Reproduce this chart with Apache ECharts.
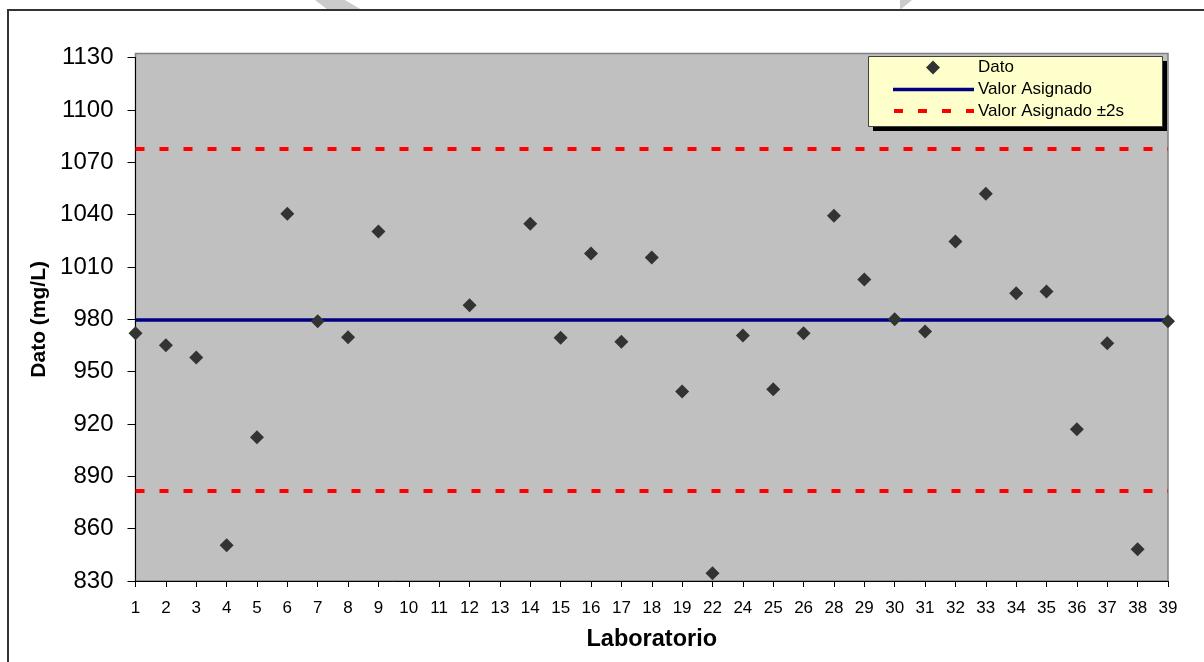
<!DOCTYPE html>
<html>
<head>
<meta charset="utf-8">
<script src="https://cdn.jsdelivr.net/npm/echarts@6/dist/echarts.min.js"></script>
<style>
  html, body { margin: 0; padding: 0; background: #ffffff; }
  #chart { width: 1204px; height: 662px; }
</style>
</head>
<body>
<div id="chart"></div>
<script>
// Laboratory codes along the x axis (some codes did not report)
const laboratorios = ['1','2','3','4','5','6','7','8','9','10','11','12','13','14','15','16','17','18','19',
  '22','24','25','26','28','29','30','31','32','33','34','35','36','37','38','39'];

// Reported result per laboratory (mg/L); null = no result
const datos = [972.0, 965.1, 958.2, 850.5, 912.4, 1040.6, 978.9, 969.7, 1030.3, null, null, 988.1, null,
  1034.8, 969.5, 1017.7, 967.2, 1015.4, 938.7, 834.4, 970.8, 939.9, 972.0, 1039.4, 1002.9, 980.0,
  973.1, 1024.7, 1052.0, 994.9, 995.9, 917.0, 966.3, 848.2, 978.9];

// Assigned value and the ±2s limits
const valorAsignado = 980;
const limiteInferior = 882;
const limiteSuperior = 1078;

// Y axis scale
const yMin = 830;
const yMax = 1130;
const yPaso = 30;

// Legend entries
const leyenda = ['Dato', 'Valor Asignado', 'Valor Asignado ±2s'];

const FONT = "'Liberation Sans', Arial, sans-serif";
const AZUL = '#000080';
const ROJO = '#ff0000';
const MARCA = '#333333';

// Legend box, drawn as graphic elements
const LX = 868, LY = 56, LW = 294, LH = 70;
const filas = [67.5, 89.5, 111];
const legendGraphics = [
  { type: 'rect', z: 50, shape: { x: LX + 5, y: LY + 5, width: LW, height: LH }, style: { fill: '#000000' } },
  { type: 'rect', z: 51, shape: { x: LX + 0.5, y: LY + 0.5, width: LW, height: LH },
    style: { fill: '#ffffcc', stroke: '#404040', lineWidth: 1 } },
  { type: 'polygon', z: 52,
    shape: { points: [[933, filas[0] - 7], [940, filas[0]], [933, filas[0] + 7], [926, filas[0]]] },
    style: { fill: MARCA } },
  { type: 'line', z: 52, shape: { x1: 893, y1: filas[1], x2: 974, y2: filas[1] },
    style: { stroke: AZUL, lineWidth: 3.5 } },
  { type: 'line', z: 52, shape: { x1: 894, y1: filas[2], x2: 974, y2: filas[2] },
    style: { stroke: ROJO, lineWidth: 4, lineDash: [9, 15] } }
].concat(leyenda.map((t, i) => ({
  type: 'text', z: 52, x: 978, y: filas[i],
  style: { text: t, fill: '#000000', font: '17px ' + FONT, textAlign: 'left', textVerticalAlign: 'middle' }
})));

const chart = echarts.init(document.getElementById('chart'), null, { renderer: 'canvas' });

chart.setOption({
  animation: false,
  backgroundColor: '#ffffff',
  textStyle: { fontFamily: FONT },
  graphic: [
    // outer chart frame
    { type: 'rect', z: -20, shape: { x: 8, y: 10, width: 1300, height: 800 },
      style: { fill: 'none', stroke: '#333333', lineWidth: 2 } },
    // plot area background
    { type: 'rect', z: -10, shape: { x: 135.5, y: 53.5, width: 1032.5, height: 527.5 },
      style: { fill: '#c0c0c0', stroke: '#808080', lineWidth: 1.5 } },
    // light stroke fragments above the frame
    { type: 'polygon', z: -30, shape: { points: [[315, 0], [345, 0], [362, 10], [328, 10]] },
      style: { fill: '#cbcbcb' } },
    { type: 'polygon', z: -30, shape: { points: [[900, 0], [912, 0], [900, 10]] },
      style: { fill: '#cbcbcb' } }
  ].concat(legendGraphics),
  grid: {
    left: 135.5,
    right: 36,
    top: 57.7,
    bottom: 81,
    containLabel: false
  },
  legend: { show: false, data: leyenda },
  xAxis: {
    type: 'category',
    data: laboratorios,
    boundaryGap: false,
    name: 'Laboratorio',
    nameLocation: 'middle',
    nameGap: 47,
    nameTextStyle: { fontFamily: FONT, fontSize: 23.5, fontWeight: 'bold', color: '#000000' },
    axisLine: { lineStyle: { color: '#000000', width: 1 } },
    axisTick: { show: true, inside: false, length: 6, alignWithLabel: true, interval: 0,
      lineStyle: { color: '#000000' } },
    axisLabel: { interval: 0, margin: 19, fontSize: 17, color: '#000000', fontFamily: FONT },
    splitLine: { show: false }
  },
  yAxis: {
    type: 'value',
    min: yMin,
    max: yMax,
    interval: yPaso,
    name: 'Dato (mg/L)',
    nameLocation: 'middle',
    nameGap: 84,
    nameTextStyle: { fontFamily: FONT, fontSize: 21, fontWeight: 'bold', color: '#000000' },
    axisLine: { show: true, lineStyle: { color: '#000000', width: 1 } },
    axisTick: { show: true, inside: false, length: 8, lineStyle: { color: '#000000' } },
    axisLabel: { margin: 22, fontSize: 24, color: '#000000', fontFamily: FONT,
      formatter: (v) => String(v) },
    splitLine: { show: false }
  },
  series: [
    {
      name: 'Dato',
      type: 'scatter',
      data: datos,
      symbol: 'diamond',
      symbolSize: 14,
      itemStyle: { color: MARCA, opacity: 1 },
      z: 5
    },
    {
      name: 'Valor Asignado',
      type: 'line',
      data: [],
      symbol: 'none',
      lineStyle: { color: AZUL, width: 3.5 },
      markLine: {
        silent: true,
        symbol: 'none',
        label: { show: false },
        lineStyle: { color: AZUL, width: 3.5, type: 'solid' },
        data: [{ yAxis: valorAsignado }]
      },
      z: 3
    },
    {
      name: 'Valor Asignado ±2s',
      type: 'line',
      data: [],
      symbol: 'none',
      lineStyle: { color: ROJO, width: 4, type: [9, 15] },
      markLine: {
        silent: true,
        symbol: 'none',
        label: { show: false },
        lineStyle: { color: ROJO, width: 4, type: [9, 15] },
        data: [{ yAxis: limiteInferior }, { yAxis: limiteSuperior }]
      },
      z: 3
    }
  ]
});
</script>
</body>
</html>
